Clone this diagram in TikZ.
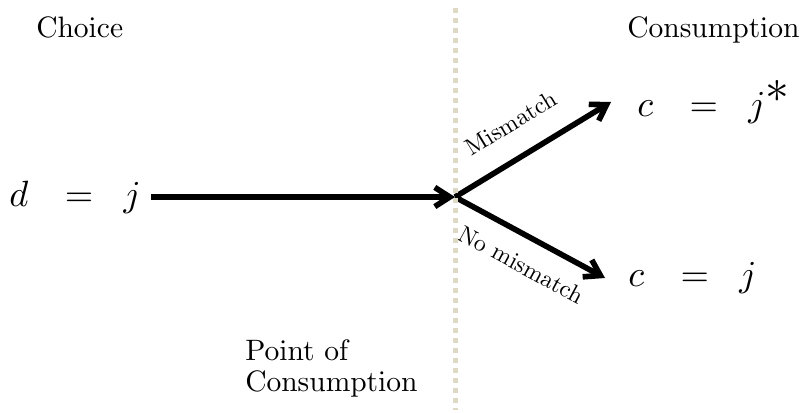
\documentclass[tikz,border=0pt]{standalone}
\usepackage{fix-cm}
\usepackage{amsmath}
\usepackage{graphicx}
\usepackage{xcolor}
\usepackage{tikz}
\usetikzlibrary{positioning, arrows.meta}
\DeclareFontShape{OML}{cmm}{m}{it}{<->cmmi10}{}
\DeclareFontShape{OMS}{cmsy}{m}{n}{<->cmsy10}{}
\DeclareFontShape{OT1}{cmr}{m}{n}{<->cmr10}{}
\definecolor{dotcol}{RGB}{221,217,196}
\newcommand{\eqsp}{\hspace{0.72em}=\hspace{0.55em}}
\newcommand{\bigast}{\scalebox{1.3}{$\displaystyle *$}}
\font\hdfont=cmr10 at 21pt
\font\lblfont=cmr10 at 17pt

\begin{document}
\begin{tikzpicture}[
    arr/.style={line width=4pt, -{Straight Barb[length=3.75mm,width=4.8mm]}},
    lbl/.style={font=\lblfont, inner sep=16.5pt, sloped},
    eq/.style={font=\fontsize{26}{30}\selectfont, inner sep=0pt},
    hd/.style={font=\fontsize{21}{22}\selectfont\hdfont, inner sep=0pt, anchor=base west},
    dotline/.style={draw=dotcol, line width=0.125cm, dash pattern=on 0.125cm off 0.125cm}
  ]
  \useasboundingbox (0,0) rectangle (20.1,10.3);
  \coordinate (pc) at (11.375,5.375);
  \coordinate (dt) at (11.375,10.1);
  \coordinate (db) at (11.375,0.05);
  \coordinate (mt) at (15.275,7.75);
  \coordinate (nt) at (15.125,3.35);
  \node [eq, left=7.85cm of pc] (dj) {$d\eqsp j$};
  \node [eq, right=0.65cm of mt] (cm) {$c\eqsp j^{\bigast}$};
  \node [eq, right=0.575cm of nt] (cn) {$c\eqsp j$};
  \node [hd] (choice) at (0.9,9.36) {Choice};
  \node [hd] (cons) at (15.675,9.36) {Consumption};
  \node [hd, align=left] (poc) at (6.125,0.525) {Point of\\Consumption};
  \draw [arr, shorten <=0.25cm] (dj) -- (pc);
  \draw [arr] (pc) -- node [lbl, pos=0.47, above] {Mismatch} (mt);
  \draw [arr] (pc) -- node [lbl, inner sep=12pt, pos=0.53, below] {No mismatch} (nt);
  \draw [dotline] (dt) -- (db);
\end{tikzpicture}
\end{document}
